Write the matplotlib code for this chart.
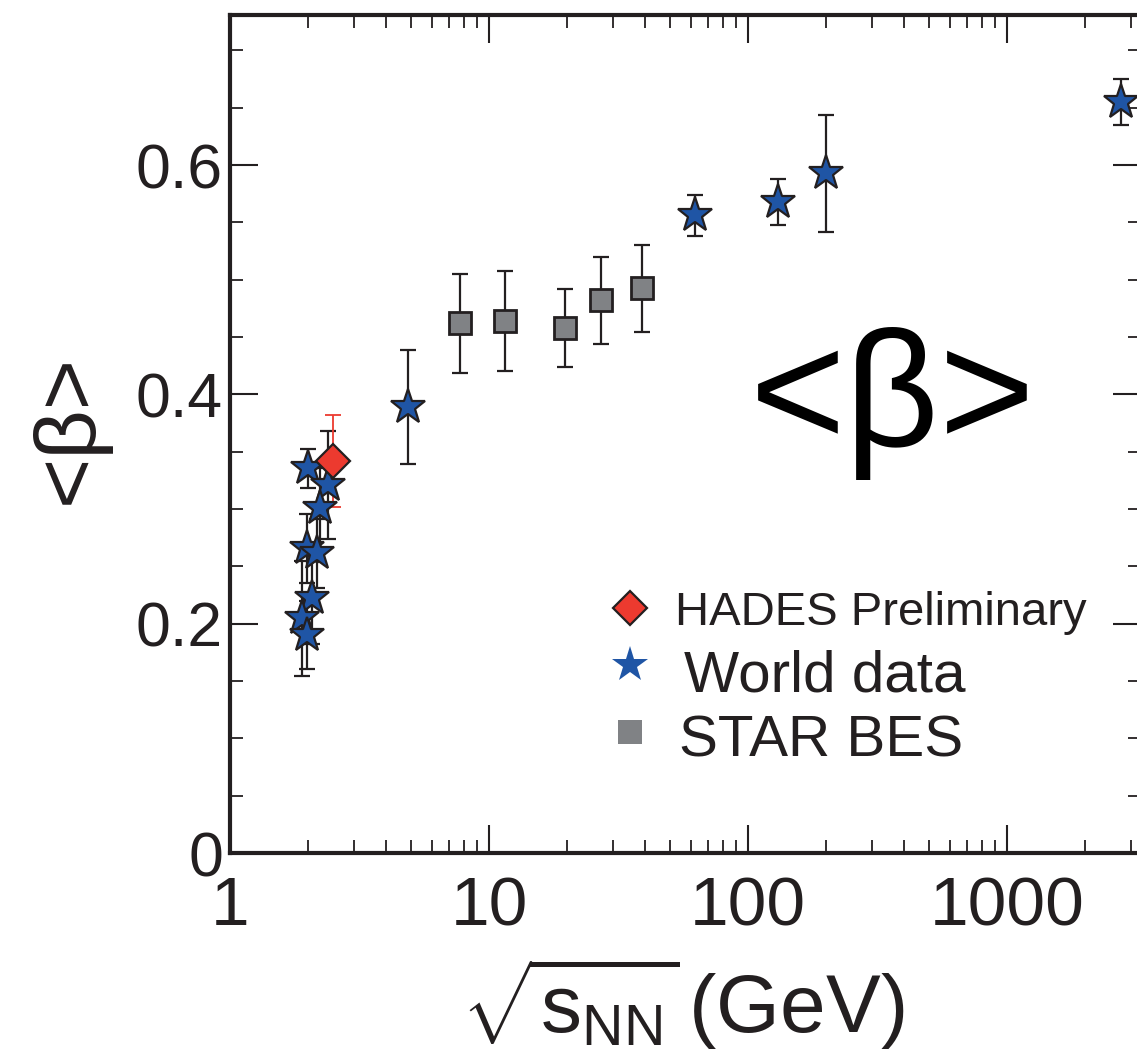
import matplotlib
matplotlib.use("Agg")
import matplotlib.pyplot as plt
import numpy as np
from matplotlib.ticker import FixedLocator, FixedFormatter, LogLocator, NullFormatter

# data
world_x = [2.005, 2.396, 2.226, 1.977, 2.162, 2.068, 1.891, 1.977,
           4.86, 62.4, 130.0, 200.0, 2760.0]
world_y = [0.3355, 0.3209, 0.3006, 0.2657, 0.2614, 0.2221, 0.2047, 0.1901,
           0.389, 0.556, 0.568, 0.593, 0.655]
world_err = [0.017, 0.047, 0.035, 0.03, 0.03, 0.04, 0.05, 0.03,
             0.05, 0.018, 0.02, 0.051, 0.02]

star_bes_x = [7.7, 11.5, 19.6, 27.0, 39.0]
star_bes_y = [0.462, 0.464, 0.458, 0.482, 0.4925]
star_bes_err = [0.043, 0.044, 0.034, 0.038, 0.038]

hades_x = [2.5]
hades_y = [0.342]
hades_err = [0.04]

yticks = [0, 0.2, 0.4, 0.6]
ytick_labels = ["0", "0.2", "0.4", "0.6"]
xticks = [1, 10, 100, 1000]
xtick_labels = ["1", "10", "100", "1000"]

ink = '#231f20'
blue = '#1f55a5'
red = '#ec3a2f'
grey = '#808285'

plt.rcParams['font.family'] = ['Liberation Sans', 'DejaVu Sans']
plt.rcParams['mathtext.fontset'] = 'custom'
plt.rcParams['mathtext.rm'] = 'Liberation Sans'
plt.rcParams['mathtext.it'] = 'Liberation Sans'

fig = plt.figure(figsize=(11.37, 10.59), dpi=100)
ax = fig.add_axes([0.2023, 0.1945, 0.8013, 0.7913])

# error bars then markers
ax.errorbar(world_x, world_y, yerr=world_err, fmt='none', ecolor=ink,
            elinewidth=1.6, capsize=5.5, capthick=1.6, zorder=2)
ax.errorbar(star_bes_x, star_bes_y, yerr=star_bes_err, fmt='none', ecolor=ink,
            elinewidth=1.6, capsize=5.5, capthick=1.6, zorder=2)
ax.errorbar(hades_x, hades_y, yerr=hades_err, fmt='none', ecolor=red,
            elinewidth=1.3, capsize=5.5, capthick=1.3, zorder=2)

ax.plot(world_x, world_y, ls='none', marker='*', ms=26, mfc=blue, mec=ink,
        mew=1.6, zorder=3)
ax.plot(star_bes_x, star_bes_y, ls='none', marker='s', ms=16, mfc=grey, mec=ink,
        mew=2.0, zorder=3)
ax.plot(hades_x, hades_y, ls='none', marker='D', ms=17, mfc=red, mec=ink,
        mew=1.6, zorder=4)

ax.set_xscale('log')
ax.set_xlim(1, 3289)
ax.set_ylim(0, 0.7308)

ax.xaxis.set_major_locator(FixedLocator(xticks))
ax.xaxis.set_major_formatter(FixedFormatter(xtick_labels))
ax.xaxis.set_minor_locator(LogLocator(base=10, subs=np.arange(2, 10)))
ax.xaxis.set_minor_formatter(NullFormatter())
ax.yaxis.set_major_locator(FixedLocator(yticks))
ax.yaxis.set_major_formatter(FixedFormatter(ytick_labels))
ax.yaxis.set_minor_locator(FixedLocator(np.arange(0, 0.75, 0.05)))

ax.tick_params(which='both', direction='in', top=True, right=True, colors=ink)
ax.tick_params(which='major', length=20, width=1.5)
ax.tick_params(which='minor', length=9.5, width=1.3)
ax.tick_params(axis='x', which='major', labelsize=50, pad=16)
ax.tick_params(axis='y', which='major', labelsize=45, pad=5)

for s in ax.spines.values():
    s.set_linewidth(3)
    s.set_color(ink)

# legend drawn by hand
ax.plot([0.439], [0.2924], transform=ax.transAxes, marker='D', ms=17,
        mfc=red, mec=ink, mew=1.6, ls='none', clip_on=False)
ax.plot([0.439], [0.2243], transform=ax.transAxes, marker='*', ms=27,
        mfc=blue, mec=blue, mew=0, ls='none', clip_on=False)
ax.plot([0.439], [0.1448], transform=ax.transAxes, marker='s', ms=17,
        mfc=grey, mec=grey, mew=0, ls='none', clip_on=False)
ax.text(0.4879, 0.2721, "HADES Preliminary", transform=ax.transAxes,
        fontsize=34, color=ink, va='baseline')
ax.text(0.4985, 0.1925, "World data", transform=ax.transAxes,
        fontsize=42, color=ink, va='baseline')
ax.text(0.4929, 0.1149, "STAR BES", transform=ax.transAxes,
        fontsize=42, color=ink, va='baseline')

ax.text(0.7272, 0.4855, "<β>", transform=ax.transAxes, fontsize=118,
        color='black', ha='center', va='baseline')

fig.text(0.0616, 0.5949, "<β>", rotation=90, fontsize=62, color=ink,
         ha='center', va='center')
fig.text(0.6, 0.0246, r"$\sqrt{\mathrm{s}_{\mathrm{NN}}}\,$(GeV)", fontsize=59,
         color=ink, ha='center', va='baseline')

fig.savefig('out.png', dpi=100)
